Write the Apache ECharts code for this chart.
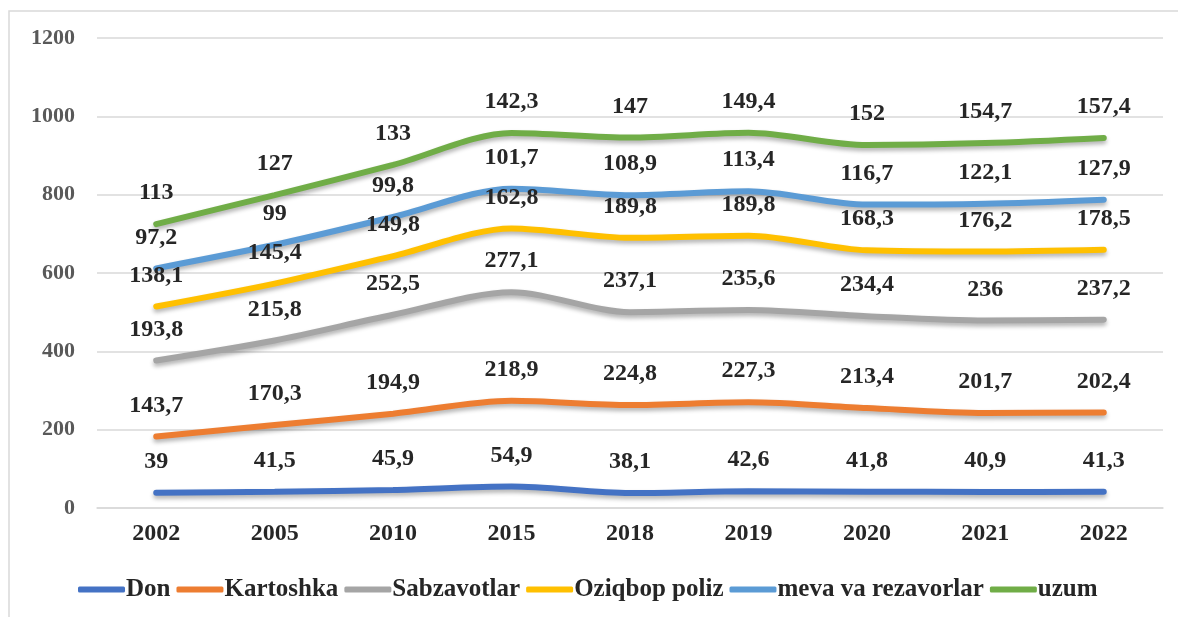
<!DOCTYPE html>
<html>
<head>
<meta charset="utf-8">
<script src="https://cdn.jsdelivr.net/npm/echarts@6/dist/echarts.min.js"></script>
<style>
html,body{margin:0;padding:0;background:#fff;}
#main{width:1178px;height:617px;}
</style>
</head>
<body>
<div id="main"></div>
<script>
var years = ['2002','2005','2010','2015','2018','2019','2020','2021','2022'];
var don = [39, 41.5, 45.9, 54.9, 38.1, 42.6, 41.8, 40.9, 41.3];
var kartoshka = [143.7, 170.3, 194.9, 218.9, 224.8, 227.3, 213.4, 201.7, 202.4];
var sabzavotlar = [193.8, 215.8, 252.5, 277.1, 237.1, 235.6, 234.4, 236, 237.2];
var poliz = [138.1, 145.4, 149.8, 162.8, 189.8, 189.8, 168.3, 176.2, 178.5];
var meva = [97.2, 99, 99.8, 101.7, 108.9, 113.4, 116.7, 122.1, 127.9];
var uzum = [113, 127, 133, 142.3, 147, 149.4, 152, 154.7, 157.4];

var names = ['Don','Kartoshka','Sabzavotlar','Oziqbop poliz','meva va rezavorlar','uzum'];
var colors = ['#4472C4','#ED7D31','#A5A5A5','#FFC000','#5B9BD5','#70AD47'];
var datas = [don, kartoshka, sabzavotlar, poliz, meva, uzum];

var fnt = 'Liberation Serif';

var series = [];
for (var i = 0; i < names.length; i++) {
    series.push({
        name: names[i],
        type: 'line',
        stack: 'jami',
        data: datas[i],
        smooth: 0.3,
        symbol: 'circle',
        symbolSize: 0.1,
        showSymbol: true,
        lineStyle: {
            width: 6,
            color: colors[i],
            cap: 'round',
            shadowColor: 'rgba(0,0,0,0.3)',
            shadowBlur: 4,
            shadowOffsetY: 3
        },
        itemStyle: {color: colors[i]},
        label: {
            show: true,
            position: 'top',
            distance: 19,
            fontFamily: fnt,
            fontWeight: 'bold',
            fontSize: 24,
            color: '#262626',
            formatter: function (p) {
                return String(p.value).replace('.', ',');
            }
        },
        labelLayout: {hideOverlap: false}
    });
}

var myChart = echarts.init(document.getElementById('main'));
myChart.setOption({
    animation: false,
    backgroundColor: '#fff',
    color: colors,
    graphic: [{
        type: 'rect',
        shape: {x: 9, y: 11, width: 1180, height: 620},
        style: {fill: 'none', stroke: '#d9d9d9', lineWidth: 1.5}
    }],
    grid: {left: 97, right: 15, top: 38, bottom: 109},
    legend: {
        data: names,
        left: 73,
        top: 572,
        icon: 'roundRect',
        itemWidth: 47,
        itemHeight: 6,
        itemGap: 6,
        textStyle: {fontFamily: fnt, fontWeight: 'bold', fontSize: 25, color: '#262626', padding: [0, 0, 0, -4]}
    },
    xAxis: {
        type: 'category',
        data: years,
        axisLine: {show: true, lineStyle: {color: '#d9d9d9', width: 1.5}},
        axisTick: {show: false},
        axisLabel: {fontFamily: fnt, fontWeight: 'bold', fontSize: 24, color: '#262626', margin: 14}
    },
    yAxis: {
        type: 'value',
        min: 0,
        max: 1200,
        interval: 200,
        axisLine: {show: false},
        axisTick: {show: false},
        splitLine: {lineStyle: {color: '#d9d9d9', width: 1.5}},
        axisLabel: {
            fontFamily: fnt, fontWeight: 'bold', fontSize: 22, color: '#595959', margin: 22,
            formatter: function (v) { return String(v); }
        }
    },
    series: series
});
</script>
</body>
</html>
